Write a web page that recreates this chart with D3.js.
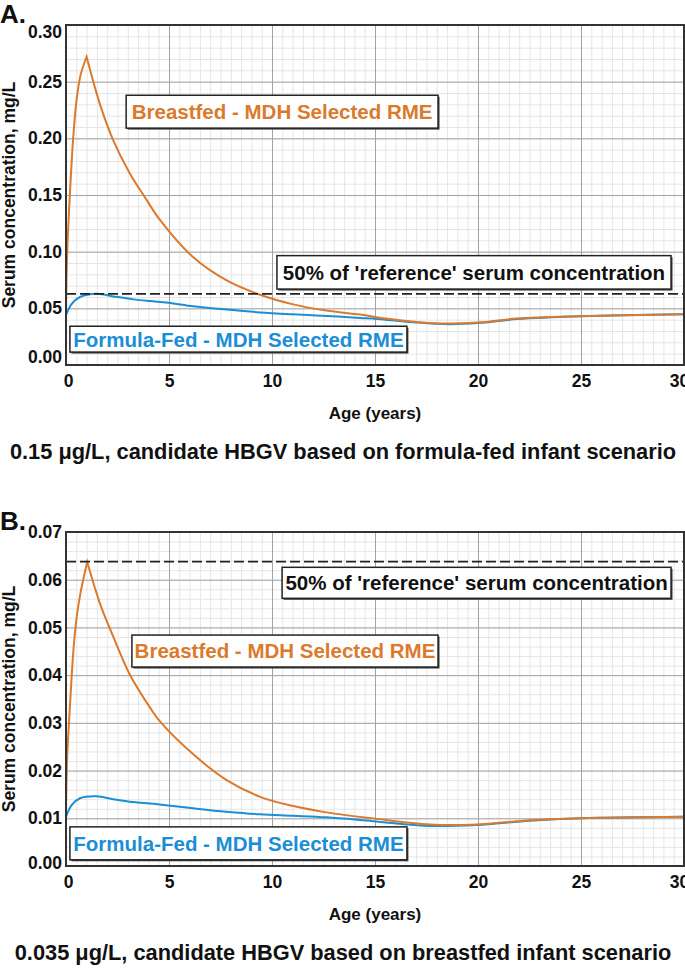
<!DOCTYPE html>
<html lang="en">
<head>
<meta charset="utf-8">
<title>Serum concentration by age</title>
<script src="https://d3js.org/d3.v7.min.js"></script>
<style>
  body { margin: 0; background: #fff; }
  text { font-family: "Liberation Sans", Arial, Helvetica, sans-serif; font-weight: bold; }
  .domain { display: none; }
</style>
</head>
<body>
<div id="chart"></div>
<script>
// ---- data ----
const xTicks = [0, 5, 10, 15, 20, 25, 30];
const yTicksA = [0, 0.05, 0.10, 0.15, 0.20, 0.25, 0.30];
const yTicksB = [0, 0.01, 0.02, 0.03, 0.04, 0.05, 0.06, 0.07];

// panel A: 0.15 ug/L
const breastfedAgeA = [0, 0.05, 0.19, 0.36, 0.52, 0.71, 1.0, 1.65, 2.3, 3.1, 3.83, 4.56, 6.18, 7.8, 9.42, 11.03, 12.65, 14.27, 15.5, 17.0, 18.6, 20.0, 21.9, 25.0, 30.0];
const breastfedValA = [0.044, 0.095, 0.151, 0.203, 0.235, 0.256, 0.272, 0.230, 0.198, 0.169, 0.148, 0.128, 0.095, 0.0746, 0.062, 0.0535, 0.048, 0.0445, 0.041, 0.038, 0.0366, 0.0375, 0.041, 0.043, 0.0447];
const formulaAgeA = [0, 0.28, 0.68, 1.49, 2.3, 3.27, 4.08, 4.97, 6.18, 7.8, 9.42, 11.03, 12.65, 14.27, 15.5, 17.0, 18.6, 20.0, 21.9, 25.0, 30.0];
const formulaValA = [0.044, 0.054, 0.060, 0.0629, 0.0605, 0.0579, 0.0564, 0.055, 0.0518, 0.0489, 0.0464, 0.0447, 0.0433, 0.0415, 0.040, 0.0375, 0.036, 0.037, 0.0405, 0.043, 0.0447];
const refHalfA = 0.0628;

// panel B: 0.035 ug/L
const breastfedAgeB = [0, 0.05, 0.19, 0.36, 0.52, 0.71, 1.03, 1.65, 2.3, 3.1, 4.08, 4.56, 6.18, 7.8, 9.42, 11.03, 12.65, 14.9, 17.67, 19.93, 22.5, 25.0, 30.0];
const breastfedValB = [0.0105, 0.022, 0.0334, 0.0452, 0.0522, 0.0574, 0.0637, 0.055, 0.048, 0.0401, 0.0332, 0.0303, 0.0234, 0.018, 0.0145, 0.01256, 0.01124, 0.00998, 0.0087, 0.0087, 0.0096, 0.0100, 0.0103];
const formulaAgeB = [0, 0.28, 0.68, 1.49, 2.3, 3.27, 4.08, 4.97, 6.18, 7.8, 9.42, 11.03, 12.65, 14.9, 17.67, 19.93, 22.5, 25.0, 30.0];
const formulaValB = [0.0103, 0.0128, 0.0142, 0.0146, 0.014, 0.0134, 0.0131, 0.0127, 0.0121, 0.01137, 0.01082, 0.01053, 0.0102, 0.0094, 0.0084, 0.0086, 0.0095, 0.0100, 0.0103];
const refHalfB = 0.0638;

const labelBreastfed = "Breastfed - MDH Selected RME";
const labelFormula = "Formula-Fed - MDH Selected RME";
const labelRef = "50% of 'reference' serum concentration";

const orange = "#db7a2c", blue = "#1b8ed6";

const W = 685, H = 968;
const svg = d3.select("#chart").append("svg").attr("width", W).attr("height", H);

function zip(a, b) { return a.map((d, i) => ({ age: d, val: b[i] })); }

function drawPanel(p) {
  const left = 66, right = 684;
  const x = d3.scaleLinear().domain([0, 30]).range([left, right]);
  const y = d3.scaleLinear().domain([0, p.yMax]).range([p.bottom, p.top]);
  const g = svg.append("g");
  const clipId = "clip" + p.letter;
  g.append("clipPath").attr("id", clipId).append("rect")
    .attr("x", left).attr("y", p.top).attr("width", right - left).attr("height", p.bottom - p.top);

  // minor grid
  g.append("g").attr("transform", "translate(0," + p.bottom + ")")
    .call(d3.axisBottom(x).tickValues(d3.range(0, 30.01, 0.5)).tickSize(-(p.bottom - p.top)).tickFormat(""))
    .selectAll("line").attr("stroke", "#e6e6e6");
  g.append("g").attr("transform", "translate(" + left + ",0)")
    .call(d3.axisLeft(y).tickValues(d3.range(0, p.yMax + 1e-9, p.yMinor)).tickSize(-(right - left)).tickFormat(""))
    .selectAll("line").attr("stroke", "#e6e6e6");
  // major grid
  g.append("g").attr("transform", "translate(0," + p.bottom + ")")
    .call(d3.axisBottom(x).tickValues(xTicks).tickSize(-(p.bottom - p.top)).tickFormat(""))
    .selectAll("line").attr("stroke", "#a3a3a3");
  g.append("g").attr("transform", "translate(" + left + ",0)")
    .call(d3.axisLeft(y).tickValues(p.yTicks).tickSize(-(right - left)).tickFormat(""))
    .selectAll("line").attr("stroke", "#a3a3a3");

  // tick labels
  const xa = g.append("g").attr("transform", "translate(0," + p.bottom + ")")
    .call(d3.axisBottom(x).tickValues(xTicks).tickSize(0).tickPadding(10).tickFormat(d3.format("d")));
  xa.selectAll("text").attr("font-size", 17.5).attr("fill", "#111")
    .attr("dx", (d, i, n) => i === n.length - 1 ? -5 : (i === 0 ? 2 : 0));
  const ya = g.append("g").attr("transform", "translate(" + left + ",0)")
    .call(d3.axisLeft(y).tickValues(p.yTicks).tickSize(0).tickPadding(4).tickFormat(d3.format(".2f")));
  ya.selectAll("text").attr("font-size", 17.5).attr("fill", "#111")
    .attr("transform", (d, i, n) => i === 0 ? "translate(0," + (-p.shiftBottom) + ")"
      : (i === n.length - 1 ? "translate(0," + p.shiftTop + ")" : null));

  // curves
  const line = d3.line().x(d => x(d.age)).y(d => y(d.val)).curve(d3.curveCatmullRom.alpha(0.5));
  const curves = g.append("g").attr("clip-path", "url(#" + clipId + ")");
  curves.append("path").datum(zip(p.formulaAge, p.formulaVal))
    .attr("fill", "none").attr("stroke", blue).attr("stroke-width", 2).attr("d", line);
  const bf = zip(p.breastfedAge, p.breastfedVal);
  const peak = d3.maxIndex(bf, d => d.val);
  // split at the sharp peak so it stays a cusp
  curves.append("path").datum(bf)
    .attr("fill", "none").attr("stroke", orange).attr("stroke-width", 2)
    .attr("d", line(bf.slice(0, peak + 1)) + line(bf.slice(peak)).replace(/^M/, "L"));

  // 50% reference line
  g.append("line").attr("x1", x(0)).attr("x2", x(30)).attr("y1", y(p.refHalf)).attr("y2", y(p.refHalf))
    .attr("stroke", "#222").attr("stroke-width", 1.6).attr("stroke-dasharray", "10,4");

  // frame
  g.append("rect").attr("x", left).attr("y", p.top).attr("width", right - left).attr("height", p.bottom - p.top)
    .attr("fill", "none").attr("stroke", "#333").attr("stroke-width", 2);

  // label boxes
  p.boxes.forEach(b => {
    const bx = x(b.x0), bw = x(b.x1) - x(b.x0), by = y(b.y1), bh = y(b.y0) - y(b.y1);
    g.append("rect").attr("x", bx + 1.5).attr("y", by + 1.5).attr("width", bw).attr("height", bh).attr("fill", "#444");
    g.append("rect").attr("x", bx).attr("y", by).attr("width", bw).attr("height", bh)
      .attr("fill", "#fff").attr("stroke", "#222").attr("stroke-width", 1.5);
    g.append("text").attr("x", bx + bw / 2).attr("y", by + bh / 2).attr("dy", "0.36em")
      .attr("text-anchor", "middle").attr("font-size", 20.5).attr("fill", b.color).text(b.text);
  });

  // titles
  g.append("text").attr("x", 0).attr("y", p.top - 2).attr("font-size", 26).attr("fill", "#111").text(p.letter + ".");
  g.append("text").attr("transform", "translate(15," + (p.top + p.bottom) / 2 + ") rotate(-90)")
    .attr("text-anchor", "middle").attr("font-size", 17.5).attr("fill", "#111").text("Serum concentration, mg/L");
  g.append("text").attr("x", (left + right) / 2).attr("y", p.bottom + 54).attr("text-anchor", "middle")
    .attr("font-size", 17).attr("fill", "#111").text("Age (years)");
  g.append("text").attr("x", 343).attr("y", p.bottom + 94).attr("text-anchor", "middle")
    .attr("font-size", 21.8).attr("fill", "#111").text(p.caption);
}

drawPanel({
  letter: "A", top: 25, bottom: 365, yMax: 0.30, yMinor: 0.01, yTicks: yTicksA,
  shiftTop: 7, shiftBottom: 8,
  breastfedAge: breastfedAgeA, breastfedVal: breastfedValA,
  formulaAge: formulaAgeA, formulaVal: formulaValA, refHalf: refHalfA,
  caption: "0.15 \u03bcg/L, candidate HBGV based on formula-fed infant scenario",
  boxes: [
    { text: labelBreastfed, color: orange, x0: 2.92, x1: 18.06, y0: 0.209, y1: 0.238 },
    { text: labelRef, color: "#111", x0: 10.24, x1: 29.37, y0: 0.067, y1: 0.0965 },
    { text: labelFormula, color: blue, x0: 0.19, x1: 16.55, y0: 0.0114, y1: 0.0342 }
  ]
});

drawPanel({
  letter: "B", top: 532, bottom: 866, yMax: 0.07, yMinor: 0.002, yTicks: yTicksB,
  shiftTop: 0, shiftBottom: 3,
  breastfedAge: breastfedAgeB, breastfedVal: breastfedValB,
  formulaAge: formulaAgeB, formulaVal: formulaValB, refHalf: refHalfB,
  caption: "0.035 \u03bcg/L, candidate HBGV based on breastfed infant scenario",
  boxes: [
    { text: labelBreastfed, color: orange, x0: 3.2, x1: 18.06, y0: 0.0417, y1: 0.0484 },
    { text: labelRef, color: "#111", x0: 10.49, x1: 29.37, y0: 0.0561, y1: 0.0626 },
    { text: labelFormula, color: blue, x0: 0.19, x1: 16.55, y0: 0.0013, y1: 0.0082 }
  ]
});
</script>
</body>
</html>
